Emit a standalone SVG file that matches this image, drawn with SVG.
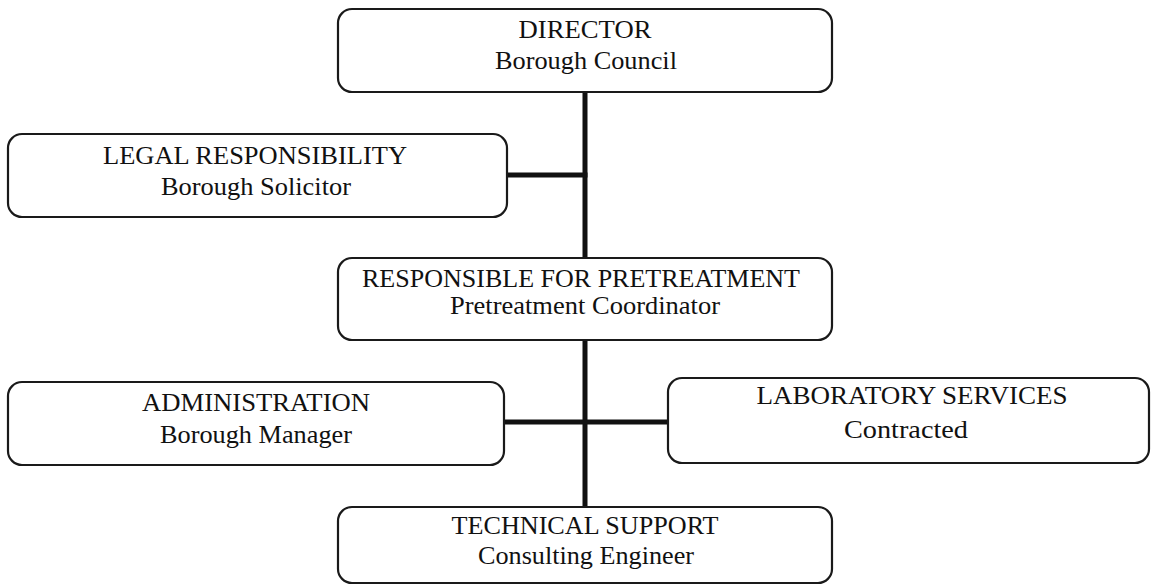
<svg xmlns="http://www.w3.org/2000/svg" width="1155" height="585" viewBox="0 0 1155 585">
<style>
.box{fill:#ffffff;stroke:#1a1a1a;stroke-width:2.2}
.t{font-family:"Liberation Serif","Times New Roman",serif;font-size:26px;fill:#111111;text-anchor:middle}
.s{font-size:24.5px}
.c{stroke:#111111;stroke-width:5;fill:none}
</style>
<rect x="0" y="0" width="1155" height="585" fill="#ffffff"/>
<g id="connectors">
<line class="c" x1="585" y1="92" x2="585" y2="258"/>
<line class="c" x1="507" y1="175" x2="587.5" y2="175"/>
<line class="c" x1="585" y1="340" x2="585" y2="507"/>
<line class="c" x1="504" y1="422" x2="669" y2="422"/>
</g>
<g id="director">
<rect class="box" x="338" y="9" width="494" height="83" rx="14"/>
<text class="t" x="585" y="38" textLength="133" lengthAdjust="spacingAndGlyphs">DIRECTOR</text>
<text class="t" x="586" y="69" textLength="182" lengthAdjust="spacingAndGlyphs">Borough Council</text>
</g>
<g id="legal">
<rect class="box" x="8" y="134" width="499" height="83" rx="14"/>
<text class="t" x="255" y="164" textLength="304" lengthAdjust="spacingAndGlyphs">LEGAL RESPONSIBILITY</text>
<text class="t" x="256" y="195" textLength="190" lengthAdjust="spacingAndGlyphs">Borough Solicitor</text>
</g>
<g id="pretreatment">
<rect class="box" x="338" y="258" width="494" height="82" rx="14"/>
<text class="t s" x="581" y="287" textLength="438" lengthAdjust="spacingAndGlyphs">RESPONSIBLE FOR PRETREATMENT</text>
<text class="t" x="585" y="314" textLength="270" lengthAdjust="spacingAndGlyphs">Pretreatment Coordinator</text>
</g>
<g id="administration">
<rect class="box" x="8" y="382" width="496" height="83" rx="14"/>
<text class="t" x="256" y="411" textLength="228" lengthAdjust="spacingAndGlyphs">ADMINISTRATION</text>
<text class="t" x="256" y="443" textLength="192" lengthAdjust="spacingAndGlyphs">Borough Manager</text>
</g>
<g id="laboratory">
<rect class="box" x="668" y="378" width="481" height="85" rx="14"/>
<text class="t" x="912" y="404" textLength="311" lengthAdjust="spacingAndGlyphs">LABORATORY SERVICES</text>
<text class="t" x="906" y="438" textLength="124" lengthAdjust="spacingAndGlyphs">Contracted</text>
</g>
<g id="technical">
<rect class="box" x="338" y="507" width="494" height="76" rx="14"/>
<text class="t s" x="585" y="534" textLength="267" lengthAdjust="spacingAndGlyphs">TECHNICAL SUPPORT</text>
<text class="t" x="586" y="564" textLength="216" lengthAdjust="spacingAndGlyphs">Consulting Engineer</text>
</g>
</svg>
